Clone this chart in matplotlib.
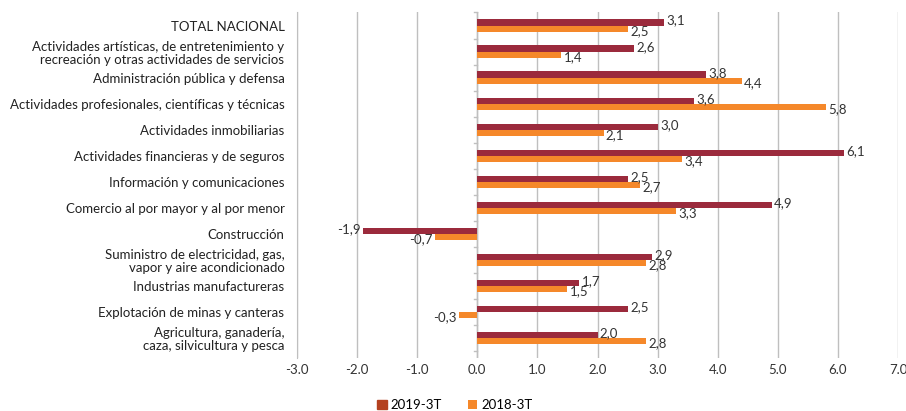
import matplotlib
matplotlib.use("Agg")
import matplotlib.pyplot as plt
import numpy as np

categories = [
    "TOTAL NACIONAL",
    "Actividades artísticas, de entretenimiento y\nrecreación y otras actividades de servicios",
    "Administración pública y defensa",
    "Actividades profesionales, científicas y técnicas",
    "Actividades inmobiliarias",
    "Actividades financieras y de seguros",
    "Información y comunicaciones",
    "Comercio al por mayor y al por menor",
    "Construcción",
    "Suministro de electricidad, gas,\nvapor y aire acondicionado",
    "Industrias manufactureras",
    "Explotación de minas y canteras",
    "Agricultura, ganadería,\ncaza, silvicultura y pesca",
]
s2019 = [3.1, 2.6, 3.8, 3.6, 3.0, 6.1, 2.5, 4.9, -1.9, 2.9, 1.7, 2.5, 2.0]
s2018 = [2.5, 1.4, 4.4, 5.8, 2.1, 3.4, 2.7, 3.3, -0.7, 2.8, 1.5, -0.3, 2.8]
xticks = [-3.0, -2.0, -1.0, 0.0, 1.0, 2.0, 3.0, 4.0, 5.0, 6.0, 7.0]
series_names = ["2019-3T", "2018-3T"]

c19 = "#9B2A3C"
c18 = "#F5882A"
c19_legend = "#B4411F"

plt.rcParams['font.family'] = ['Lato', 'DejaVu Sans']
fig = plt.figure(figsize=(9.06, 4.11), dpi=100)
ax = fig.add_axes([297/906, 1-358/411, (898-297)/906, (358-12.5)/411])

n = len(categories)
y = np.arange(n)
h = 0.235
ax.barh(y - h/2, s2019, height=h, color=c19, label=series_names[0], zorder=3)
ax.barh(y + h/2, s2018, height=h, color=c18, label=series_names[1], zorder=3)

def fmt(v):
    return f"{v:.1f}".replace(".", ",")

for i in range(n):
    for v, off in ((s2019[i], -h/2 - 0.07), (s2018[i], h/2 + 0.1)):
        if v >= 0:
            ax.text(v + 0.04, i + off, fmt(v), va="center", ha="left", fontsize=9.5, color="#333333", zorder=4)
        else:
            ax.text(v - 0.04, i + off, fmt(v), va="center", ha="right", fontsize=9.5, color="#333333", zorder=4)

ax.set_xlim(-3, 7)
ax.set_ylim(n - 0.5 + 0.27, -0.5)
ax.set_xticks(xticks)
ax.set_xticklabels([f"{t:.1f}" for t in xticks], fontsize=9.5, color="#333333")
ax.set_yticks(y)
ax.set_yticklabels(categories, fontsize=9.5, color="#222222", linespacing=1.1)
ax.tick_params(axis="y", length=0, pad=9)
ax.tick_params(axis="x", length=0, pad=4)
ax.grid(axis="x", color="#BFBFBF", linewidth=1, zorder=0)
for s in ["top", "right", "bottom"]:
    ax.spines[s].set_visible(False)
ax.spines["left"].set_color("#BFBFBF")
ax.axvline(0, color="#BFBFBF", linewidth=1, zorder=2)
for b in np.arange(-0.5, n, 1.0):
    ax.plot([-0.06, 0], [b, b], color="#BFBFBF", linewidth=1, zorder=2, clip_on=False)

leg = fig.legend(loc="lower center", bbox_to_anchor=(455/906, -0.03), ncol=2, frameon=False,
                 fontsize=9.5, handlelength=0.7, handleheight=0.7, columnspacing=2.0, handletextpad=0.3)
leg.legend_handles[0].set_color(c19_legend)
fig.savefig("out.png", dpi=100)
